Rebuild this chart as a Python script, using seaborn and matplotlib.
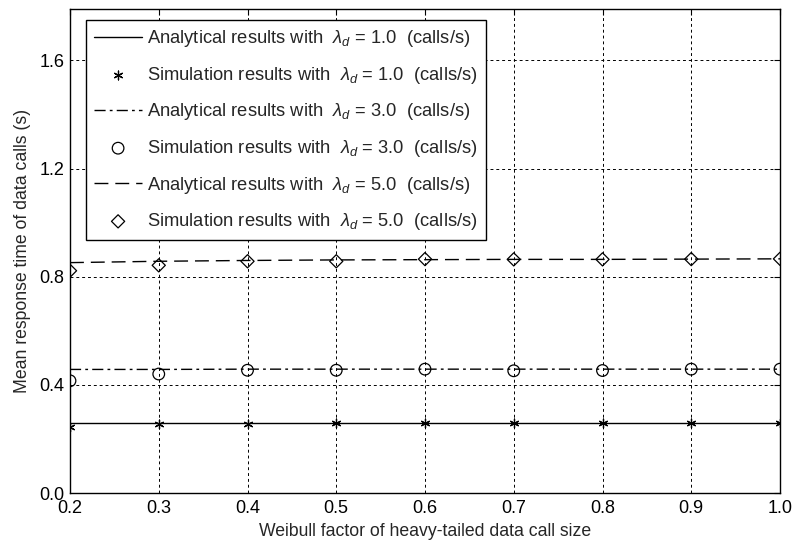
import numpy as np
import pandas as pd
import matplotlib
matplotlib.use("Agg")
import matplotlib.pyplot as plt
import seaborn as sns

# ---- data ----
weibull = [0.2, 0.3, 0.4, 0.5, 0.6, 0.7, 0.8, 0.9, 1.0]
ana_l1 = [0.258, 0.258, 0.258, 0.258, 0.258, 0.258, 0.258, 0.258, 0.258]
sim_l1 = [0.245, 0.254, 0.254, 0.258, 0.258, 0.258, 0.258, 0.258, 0.258]
ana_l3 = [0.457, 0.457, 0.458, 0.458, 0.458, 0.458, 0.458, 0.458, 0.458]
sim_l3 = [0.415, 0.440, 0.454, 0.454, 0.458, 0.452, 0.453, 0.458, 0.458]
ana_l5 = [0.852, 0.857, 0.860, 0.862, 0.863, 0.864, 0.864, 0.865, 0.866]
sim_l5 = [0.822, 0.842, 0.857, 0.857, 0.865, 0.864, 0.864, 0.865, 0.866]
rates = ["1.0", "3.0", "5.0"]
xticks = [0.2, 0.3, 0.4, 0.5, 0.6, 0.7, 0.8, 0.9, 1.0]
yticks = [0.0, 0.4, 0.8, 1.2, 1.6]

sns.set_theme(style="white")
plt.rcParams['font.family'] = ['Liberation Sans', 'DejaVu Sans']
plt.rcParams['mathtext.fontset'] = 'custom'
plt.rcParams['mathtext.rm'] = 'Liberation Sans'
plt.rcParams['mathtext.it'] = 'Liberation Sans:italic'

fig = plt.figure(figsize=(7.95, 5.43), dpi=100)
ax = fig.add_axes([70/795, 50/543, 710/795, 484/543])

ana = [ana_l1, ana_l3, ana_l5]
sim = [sim_l1, sim_l3, sim_l5]
lstyles = ['-', (0, (8, 3, 2, 3)), (0, (10, 5))]
markers = [(6, 2, 0), 'o', 'D']
msizes = [40, 70, 45]

handles = []
labels = []
for i in range(3):
    df_a = pd.DataFrame({"x": weibull, "y": ana[i]})
    df_s = pd.DataFrame({"x": weibull, "y": sim[i]})
    sns.lineplot(data=df_a, x="x", y="y", ax=ax, color='black', linewidth=1.0,
                 linestyle=lstyles[i], zorder=3)
    ln = ax.lines[-1]
    if i == 0:
        sns.scatterplot(data=df_s, x="x", y="y", ax=ax, marker=markers[i], color='black',
                        s=msizes[i], linewidth=0.9, edgecolor='black', zorder=4)
    else:
        sns.scatterplot(data=df_s, x="x", y="y", ax=ax, marker=markers[i],
                        facecolor='none', edgecolor='black', s=msizes[i],
                        linewidth=0.9, zorder=4)
    sc = ax.collections[-1]
    handles += [ln, sc]
    labels += [r"Analytical results with  $\lambda_d$ = %s  (calls/s)" % rates[i],
               r"Simulation results with  $\lambda_d$ = %s  (calls/s)" % rates[i]]

ax.set_xlim(0.2, 1.0)
ax.set_ylim(0.0, 1.79)
ax.set_xticks(xticks)
ax.set_xticklabels(["%.1f" % v for v in xticks])
ax.set_yticks(yticks)
ax.set_yticklabels(["%.1f" % v for v in yticks])
ax.grid(True, color='black', linestyle=(0, (3, 3)), linewidth=0.7)
ax.tick_params(direction='in', length=4, width=0.8, top=True, right=True,
               labelsize=13, colors='black', pad=5)
ax.tick_params(axis='y', pad=4)
for s in ax.spines.values():
    s.set_color('black')
    s.set_linewidth(1.0)
ax.set_xlabel("Weibull factor of heavy-tailed data call size", fontsize=12.7, labelpad=4)
ax.set_ylabel("Mean response time of data calls (s)", fontsize=12.7, labelpad=6)

leg = ax.legend(handles, labels, loc='upper left', bbox_to_anchor=(16/710, 1 - 11/484),
                borderaxespad=0, fontsize=13.2, handlelength=2.6, labelspacing=0.85,
                frameon=True, fancybox=False, edgecolor='black', framealpha=1,
                borderpad=0.45, handletextpad=0.3)
leg.get_frame().set_linewidth(1.0)
leg.set_zorder(10)

fig.savefig("out.png", dpi=100)
